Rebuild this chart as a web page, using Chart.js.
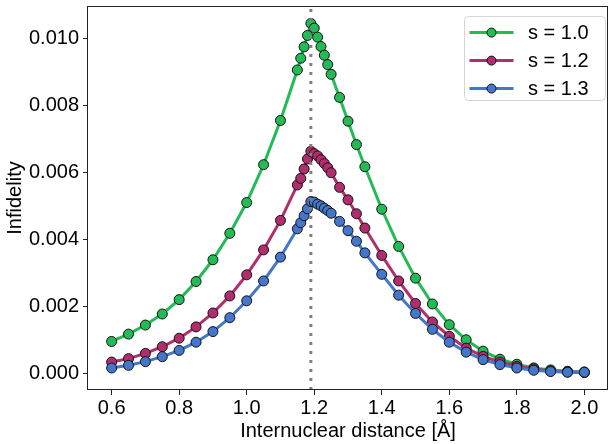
<!DOCTYPE html>
<html>
<head>
<meta charset="utf-8">
<script src="https://cdn.jsdelivr.net/npm/chart.js@4.4.1/dist/chart.umd.min.js"></script>
<style>
  html, body { margin: 0; padding: 0; background: #fff; overflow: hidden; }
  #wrap { position: relative; width: 614px; height: 444px; }
</style>
</head>
<body>
<div id="wrap"><canvas id="infidelityChart"></canvas></div>
<script>
// internuclear distances (Å), shared by all three series
const distances = [
  0.6, 0.65, 0.7, 0.75, 0.8, 0.85, 0.9, 0.95, 1.0, 1.05, 1.1,
  1.15, 1.16, 1.17, 1.18, 1.19, 1.2, 1.21, 1.22, 1.23, 1.24, 1.25,
  1.275, 1.3, 1.325, 1.35,
  1.4, 1.45, 1.5, 1.55, 1.6, 1.65, 1.7, 1.75, 1.8, 1.85, 1.9, 1.95, 2.0
];

const infidelityS10 = [
  0.00095, 0.00117, 0.00144, 0.00177, 0.00220, 0.00274, 0.00339, 0.00418, 0.00510, 0.00623, 0.00755,
  0.00906, 0.00941, 0.00975, 0.01009, 0.01045, 0.01031, 0.01004, 0.00976, 0.00950, 0.00922, 0.00893,
  0.00824, 0.00753, 0.00683, 0.00617,
  0.00490, 0.00379, 0.00284, 0.00207, 0.00145, 0.00100, 0.00066, 0.00042, 0.00027, 0.00016, 0.00010, 0.00006, 0.00004
];

const infidelityS12 = [
  0.000335, 0.000436, 0.000593, 0.000792, 0.001047, 0.001385, 0.00180, 0.00231, 0.00294, 0.003685, 0.004566,
  0.005624, 0.00582, 0.00610, 0.00640, 0.00663, 0.00656, 0.00649, 0.00638, 0.006265, 0.006137, 0.00599,
  0.005553, 0.00518, 0.004764, 0.004337,
  0.00352, 0.002757, 0.002084, 0.001533, 0.001106, 0.00075, 0.000504, 0.000335, 0.000208, 0.000128, 0.00007, 0.00004, 0.00002
];

const infidelityS13 = [
  0.000157, 0.000237, 0.000347, 0.000495, 0.000682, 0.000928, 0.001245, 0.00166, 0.002164, 0.002757, 0.003469,
  0.004314, 0.004497, 0.004705, 0.004913, 0.00513, 0.005114, 0.00505, 0.00500, 0.00493, 0.00486, 0.00478,
  0.004536, 0.00426, 0.003943, 0.003596,
  0.002956, 0.002333, 0.001788, 0.001313, 0.000928, 0.000631, 0.000406, 0.000258, 0.000157, 0.000089, 0.00005, 0.00003, 0.00003
];

const seriesLabels = ['s = 1.0', 's = 1.2', 's = 1.3'];
const seriesColors = ['#22bb55', '#b22d6e', '#4477cc'];

const equilibriumDistance = 1.19;

const xTickValues = [0.6, 0.8, 1.0, 1.2, 1.4, 1.6, 1.8, 2.0];
const xTickLabels = ['0.6', '0.8', '1.0', '1.2', '1.4', '1.6', '1.8', '2.0'];
const yTickValues = [0, 0.002, 0.004, 0.006, 0.008, 0.010];
const yTickLabels = ['0.000', '0.002', '0.004', '0.006', '0.008', '0.010'];

const xMin = 0.53, xMax = 2.07;
const yMin = -0.0005, yMax = 0.01097;

const FONT = "'Liberation Sans', Arial, Helvetica, sans-serif";
Chart.defaults.font.family = FONT;
Chart.defaults.color = '#000';

const toPoints = ys => distances.map((x, i) => ({ x: x, y: ys[i] }));

// axes frame (top spine too, matplotlib style)
const frame = {
  id: 'frame',
  afterDatasetsDraw(chart) {
    const { ctx, chartArea: a } = chart;
    ctx.save();
    ctx.strokeStyle = '#222';
    ctx.lineWidth = 1;
    const l = Math.round(a.left) - 0.5, t = Math.round(a.top) + 0.5;
    const r = Math.round(a.right) - 0.5, b = Math.round(a.bottom) - 0.5;
    ctx.strokeRect(l, t, r - l, b - t);
    ctx.restore();
  }
};

// legend box in upper right corner of the plot
const insideLegend = {
  id: 'insideLegend',
  afterDatasetsDraw(chart) {
    const { ctx, chartArea } = chart;
    const items = chart.data.datasets.filter(d => d.label);
    const w = 141, h = 84;
    const left = chartArea.right - 3.5 - w;
    const top = chartArea.top + 10;
    ctx.save();
    ctx.beginPath();
    ctx.roundRect(Math.round(left) + 0.5, Math.round(top) + 0.5, w, h, 4);
    ctx.fillStyle = 'rgba(255,255,255,0.85)';
    ctx.fill();
    ctx.strokeStyle = '#d4d4d4';
    ctx.lineWidth = 1;
    ctx.stroke();
    items.forEach((d, i) => {
      const y = top + 16.6 + i * 28;
      ctx.beginPath();
      ctx.moveTo(left + 6, y);
      ctx.lineTo(left + 50, y);
      ctx.strokeStyle = d.borderColor;
      ctx.lineWidth = 3;
      ctx.stroke();
      ctx.beginPath();
      ctx.arc(left + 28, y, 4.5, 0, Math.PI * 2);
      ctx.fillStyle = d.pointBackgroundColor;
      ctx.fill();
      ctx.strokeStyle = '#111';
      ctx.lineWidth = 1;
      ctx.stroke();
      ctx.fillStyle = '#000';
      ctx.font = '20px ' + FONT;
      ctx.textBaseline = 'middle';
      ctx.textAlign = 'left';
      ctx.fillText(d.label, left + 64.5, y + 1);
    });
    ctx.restore();
  }
};

const curve = (k, ys, order) => ({
  label: seriesLabels[k],
  data: toPoints(ys),
  borderColor: seriesColors[k],
  backgroundColor: seriesColors[k],
  borderWidth: 3,
  pointRadius: 5,
  pointBorderWidth: 1,
  pointBorderColor: '#111',
  pointBackgroundColor: seriesColors[k],
  tension: 0,
  order: order
});

new Chart(document.getElementById('infidelityChart'), {
  type: 'line',
  data: {
    datasets: [
      curve(0, infidelityS10, 3),
      curve(1, infidelityS12, 2),
      curve(2, infidelityS13, 1),
      {
        data: [{ x: equilibriumDistance, y: yMin }, { x: equilibriumDistance, y: yMax }],
        borderColor: '#808080',
        borderWidth: 3,
        borderDash: [3, 6],
        borderCapStyle: 'butt',
        pointRadius: 0,
        order: 0
      }
    ]
  },
  options: {
    responsive: true,
    maintainAspectRatio: false,
    animation: false,
    events: [],
    layout: { padding: { left: 0, top: 3, right: 4, bottom: 0 } },
    plugins: {
      legend: { display: false },
      tooltip: { enabled: false }
    },
    scales: {
      x: {
        type: 'linear',
        min: xMin,
        max: xMax,
        afterBuildTicks: s => { s.ticks = xTickValues.map(v => ({ value: v })); },
        afterFit: s => { s.height = 54; s.paddingLeft = 0; s.paddingRight = 0; },
        ticks: {
          font: { size: 20 },
          padding: 1,
          maxRotation: 0,
          callback: (v, i) => xTickLabels[i]
        },
        grid: { drawOnChartArea: false, drawTicks: true, tickLength: 5, color: '#222', tickWidth: 1 },
        border: { display: false },
        title: {
          display: true,
          text: 'Internuclear distance [Å]',
          font: { size: 20 },
          padding: { top: 0, bottom: 1 }
        }
      },
      y: {
        type: 'linear',
        min: yMin,
        max: yMax,
        afterBuildTicks: s => { s.ticks = yTickValues.map(v => ({ value: v })); },
        afterFit: s => { s.width = 88; s.paddingTop = 0; s.paddingBottom = 0; },
        ticks: {
          font: { size: 20 },
          padding: 4,
          callback: (v, i) => yTickLabels[i]
        },
        grid: { drawOnChartArea: false, drawTicks: true, tickLength: 5, color: '#222', tickWidth: 1 },
        border: { display: false },
        title: {
          display: true,
          text: 'Infidelity',
          font: { size: 20 },
          padding: { top: 3, bottom: 0 }
        }
      }
    }
  },
  plugins: [frame, insideLegend]
});
</script>
</body>
</html>
